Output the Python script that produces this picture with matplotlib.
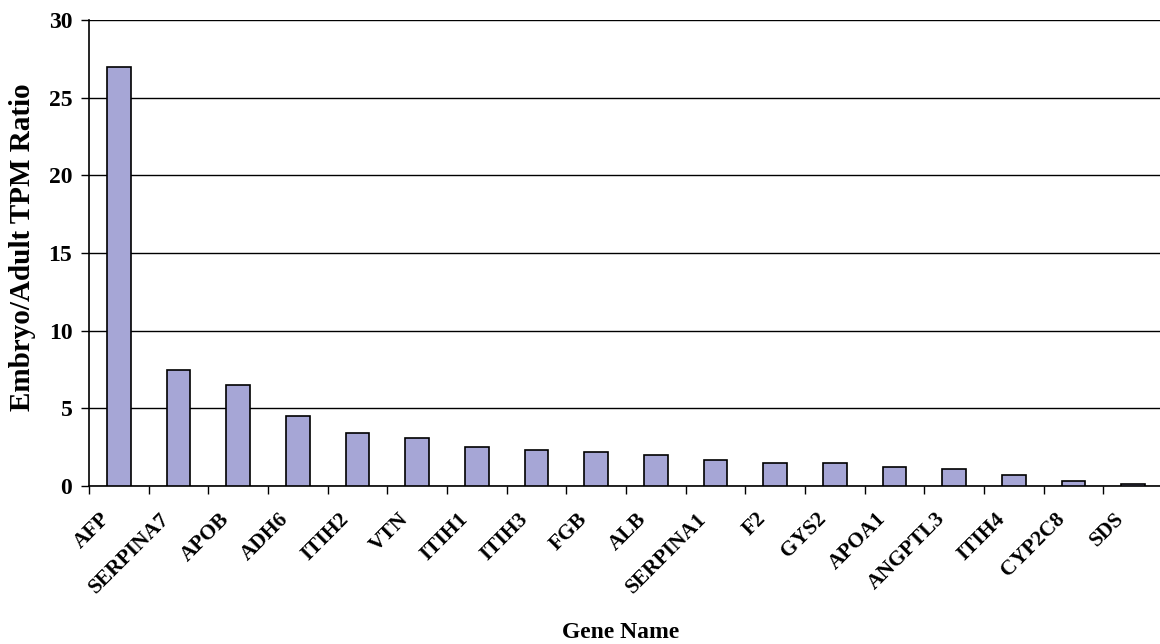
import matplotlib
matplotlib.use("Agg")
import matplotlib.pyplot as plt
import matplotlib.transforms as mtransforms

# gene names and embryo/adult TPM ratios
genes = ["AFP", "SERPINA7", "APOB", "ADH6", "ITIH2", "VTN", "ITIH1", "ITIH3", "FGB",
         "ALB", "SERPINA1", "F2", "GYS2", "APOA1", "ANGPTL3", "ITIH4", "CYP2C8", "SDS"]
ratios = [27.0, 7.5, 6.5, 4.5, 3.4, 3.1, 2.5, 2.3, 2.2,
          2.0, 1.7, 1.5, 1.5, 1.2, 1.1, 0.7, 0.3, 0.1]
y_ticks = [0, 5, 10, 15, 20, 25, 30]

plt.rcParams['font.family'] = ['Liberation Serif', 'DejaVu Serif']
plt.rcParams['font.weight'] = 'bold'

fig = plt.figure(figsize=(11.6, 6.44), dpi=100)
ax = fig.add_axes([89 / 1160, 1 - 486 / 644, 1074 / 1160, 466 / 644])

x = list(range(len(genes)))
ax.bar(x, ratios, width=0.4, color='#a6a6d6', edgecolor='black', linewidth=1.2, zorder=3)

ax.set_xlim(-0.5, len(genes) - 0.5)
ax.set_ylim(0, 30)
ax.set_yticks(y_ticks)
ax.yaxis.grid(True, color='black', linewidth=1.0, zorder=0)
ax.tick_params(axis='y', labelsize=17, length=6, width=1, direction='out', pad=6)

# ticks between categories, labels at category centres
ax.set_xticks([i - 0.5 for i in range(len(genes) + 1)])
ax.set_xticklabels([])
ax.tick_params(axis='x', length=6, width=1, direction='out')
offset = mtransforms.ScaledTranslation(-12 / 100, -30 / 100, fig.dpi_scale_trans)
for i, g in enumerate(genes):
    ax.text(i, 0, g, transform=ax.get_xaxis_transform() + offset,
            rotation=45, ha='right', va='center', rotation_mode='anchor',
            fontsize=15.5, fontweight='bold')

for s in ['top', 'right']:
    ax.spines[s].set_visible(False)
ax.spines['left'].set_linewidth(1.2)
ax.spines['bottom'].set_linewidth(1.2)

fig.text(23 / 1160, 1 - 247 / 644, 'Embryo/Adult TPM Ratio', rotation=90,
         ha='center', va='center', fontsize=21, fontweight='bold')
fig.text(621 / 1160, 1 - 632 / 644, 'Gene Name', ha='center', va='center',
         fontsize=17, fontweight='bold')

fig.savefig('out.png', dpi=100)
